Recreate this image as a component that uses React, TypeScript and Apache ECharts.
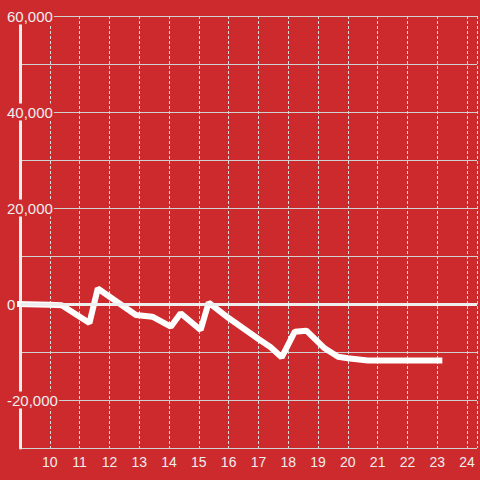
import React, { useEffect, useRef } from "react";
import * as echarts from "echarts";

const hours = [8.9, 10.0, 10.4, 11.33, 11.61, 12.89, 13.44, 14.06, 14.39, 15.06, 15.33, 16.0, 17.0, 17.4, 17.78, 18.22, 18.61, 19.22, 19.67, 20.0, 20.67, 23.17];
const values = [0, -150, -250, -3960, 3230, -2290, -2650, -4730, -1940, -5420, 270, -2920, -7290, -8960, -11100, -5770, -5560, -9230, -10980, -11310, -11770, -11770];

const BG = "#cd2a2e";
const FONT = "'Liberation Sans', Arial, sans-serif";

export default function App() {
  const ref = useRef<HTMLDivElement>(null);
  useEffect(() => {
    if (!ref.current) return;
    const chart = echarts.init(ref.current, null, { renderer: "svg" });
    chart.setOption({
      animation: false,
      backgroundColor: BG,
      grid: { left: 20, right: 0, top: 16, bottom: 32, containLabel: false },
      xAxis: {
        type: "value",
        min: 9,
        max: 24.3333,
        interval: 1,
        axisLine: { show: true, lineStyle: { color: "#d0d0d0", width: 1 } },
        axisTick: { show: false },
        axisLabel: {
          color: "#eeeeee",
          fontSize: 14,
          fontFamily: FONT,
          margin: 7,
          showMinLabel: false,
          formatter: (v: number) => (Math.abs(v - Math.round(v)) < 1e-6 ? String(Math.round(v)) : ""),
        },
        splitLine: { show: true, lineStyle: { color: "#dddddd", width: 1, type: [3, 2] } },
      },
      yAxis: {
        type: "value",
        min: -30000,
        max: 60000,
        interval: 10000,
        axisLine: { show: true, onZero: false, lineStyle: { color: "#eeeeee", width: 3 } },
        axisTick: { show: false },
        axisLabel: {
          color: "#eeeeee",
          fontSize: 15,
          fontFamily: FONT,
          align: "left",
          margin: 14,
          backgroundColor: BG,
          padding: [1, 1, 1, 1],
          formatter: (v: number) => (v % 20000 === 0 ? v.toLocaleString("en-US") : ""),
        },
        splitLine: { show: true, lineStyle: { color: "#d0d0d0", width: 1 } },
      },
      series: [
        {
          type: "line",
          data: hours.map((h, i) => [h, values[i]]),
          showSymbol: false,
          clip: false,
          lineStyle: { color: "#ffffff", width: 6 },
          markLine: {
            silent: true,
            symbol: "none",
            label: { show: false },
            lineStyle: { color: "#eeeeee", width: 3, type: "solid" },
            data: [{ yAxis: 0 }],
          },
        },
      ],
    });
    return () => chart.dispose();
  }, []);
  return <div ref={ref} style={{ position: "fixed", left: 0, top: 0, width: 480, height: 480 }} />;
}
